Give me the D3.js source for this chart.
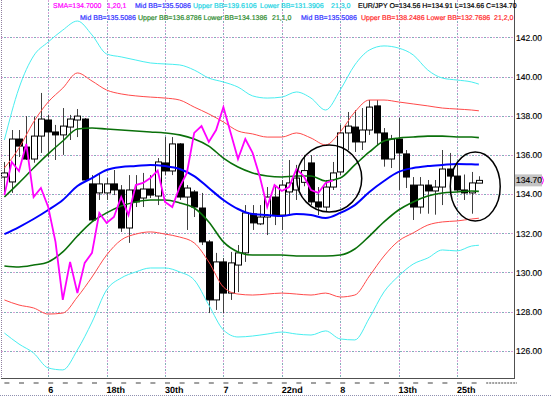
<!DOCTYPE html>
<html>
<head>
<meta charset="utf-8">
<script src="https://cdn.jsdelivr.net/npm/d3@7"></script>
<style>
  body { margin: 0; background: #fff; }
  svg { display: block; font-family: "Liberation Sans", Arial, sans-serif; text-rendering: geometricPrecision; }
</style>
</head>
<body>
<svg id="chart" width="552" height="396"></svg>
<script>
// EUR/JPY candles, Bollinger bands 21 (1/2/3 sigma), lagging SMA(1,20)

var opens  = [134.87,134.62,136.81,136.40,135.79,136.96,137.78,137.17,137.02,137.42,137.78,137.83,134.52,134.06,134.06,134.52,134.21,132.27,134.21,133.80,134.26,133.90,135.59,135.18,136.56,133.85,134.11,133.29,131.56,128.60,130.54,128.95,130.38,131.00,132.99,132.48,132.83,133.85,132.93,134.11,134.21,134.60,135.59,133.60,133.34,134.36,135.13,137.12,137.42,136.66,137.27,138.50,137.12,135.79,136.81,136.05,134.46,133.34,134.46,134.16,134.36,135.28,134.92,134.21,134.06,134.56];
var highs  = [135.64,137.27,137.27,137.98,137.95,139.16,138.04,137.53,138.39,138.04,138.34,137.88,134.97,135.08,134.82,135.23,134.46,134.97,134.97,135.08,134.97,135.84,136.91,136.91,136.60,134.46,134.21,134.06,131.66,131.00,130.74,131.05,131.40,133.44,133.44,133.44,134.36,134.36,134.72,135.74,135.49,136.00,135.99,134.36,134.72,135.64,137.53,138.19,138.29,138.39,138.80,138.80,137.37,137.02,137.88,136.25,134.87,134.87,134.72,134.72,136.25,136.10,135.50,135.00,135.13,134.91];
var lows   = [134.11,134.06,135.89,135.74,135.60,136.10,135.89,135.74,136.00,136.76,136.91,134.62,132.58,133.70,133.70,133.95,132.07,131.51,133.34,133.34,133.80,133.44,134.97,134.97,133.70,132.17,132.83,131.40,127.93,128.09,127.93,128.60,129.00,130.54,132.17,132.42,131.91,132.42,132.17,132.93,133.70,134.40,133.44,132.93,133.10,134.21,134.97,136.25,136.15,136.25,137.02,136.50,135.40,135.33,134.21,134.31,132.68,133.00,133.00,132.95,133.44,134.72,134.10,133.70,133.00,134.66];
var closes = [135.08,136.81,136.45,135.79,136.96,137.83,137.17,137.02,137.47,137.83,137.98,134.72,132.68,134.52,134.52,134.21,132.27,134.21,133.60,134.26,133.95,135.64,135.18,136.56,133.85,134.31,133.34,131.56,128.60,130.54,128.95,130.49,131.00,133.04,132.53,132.83,133.85,132.93,134.46,134.57,134.82,135.20,133.60,133.34,134.36,135.08,137.12,137.47,136.66,137.27,138.44,137.12,135.79,136.81,136.10,134.87,133.34,134.46,134.16,134.36,135.28,134.92,134.21,134.06,134.57,134.70];

// band readings, taken every second bar
var bandIdx = [0,2,4,6,8,10,12,14,16,18,20,22,24,26,28,30,32,34,36,38,40,42,44,46,48,50,52,54,56,58,60,62,64,65];
var bbMid = [131.96,132.32,132.73,133.19,133.70,134.41,134.82,135.23,135.38,135.43,135.49,135.43,135.28,134.92,134.31,133.70,133.24,132.98,132.93,132.88,132.98,132.93,132.78,133.04,133.44,134.11,134.67,135.13,135.33,135.43,135.49,135.54,135.52,135.51];
var bbUp1 = [133.85,134.57,135.33,136.05,136.71,137.32,137.37,137.32,137.27,137.22,137.17,137.12,137.02,136.81,136.45,135.84,135.38,135.08,134.92,134.87,134.92,134.92,134.67,134.82,135.49,136.15,136.71,136.86,136.91,136.96,136.96,136.91,136.91,136.88];
var bbLo1 = [130.33,130.28,130.38,130.54,131.05,131.86,132.58,133.04,133.39,133.60,133.70,133.70,133.55,133.29,132.58,131.56,131.05,130.89,130.89,130.89,130.84,130.84,130.84,130.89,131.20,131.86,132.58,133.19,133.60,133.90,134.06,134.11,134.16,134.14];
var bbUp2 = [135.33,136.35,137.68,138.70,139.41,140.18,139.77,139.31,139.11,139.01,138.95,138.90,138.80,138.44,138.09,137.68,137.22,137.07,136.91,136.91,137.12,136.86,136.51,137.17,138.19,138.80,138.80,138.70,138.60,138.50,138.39,138.34,138.29,138.25];
var bbLo2 = [128.60,128.34,128.19,127.88,127.93,128.75,129.77,130.89,131.66,131.96,132.07,131.96,131.81,131.51,130.54,129.26,128.90,128.85,128.90,128.95,128.90,128.85,128.95,128.75,128.85,129.82,130.84,131.61,132.02,132.42,132.58,132.63,132.73,132.77];
var bbUp3 = [136.76,139.41,141.05,141.76,142.37,142.83,142.12,141.15,141.00,140.84,140.69,140.64,140.59,140.33,139.92,139.72,139.46,139.01,138.90,138.95,139.21,138.90,138.29,139.31,140.59,141.35,141.56,141.45,141.10,140.33,139.92,139.82,139.72,139.61];
var bbLo3 = [126.91,126.35,125.89,125.13,125.03,126.05,127.47,129.11,129.72,130.03,130.23,130.23,130.03,129.62,128.34,127.07,126.71,126.76,126.86,126.96,126.86,126.81,127.02,126.61,126.56,127.68,129.01,129.82,130.43,130.74,131.15,131.10,131.35,131.39];

var lagShift = 20;   // SMA 1,20,1
var dateIdx = [6,14,22,30,38,46,54,62];
var dateLabels = ['6','18th','30th','7','22nd','8','13th','25th'];
var priceTicks = [126,128,130,132,134,136,138,140,142];

var headerLine1 = [
  {t:'SMA=134.7000', c:'#ff00ff', x:53},
  {t:'1,20,1', c:'#ff00ff', x:107},
  {t:'Mid BB=135.5086', c:'#3030ff', x:135},
  {t:'Upper BB=139.6106', c:'#22d4e4', x:193},
  {t:'Lower BB=131.3906', c:'#22d4e4', x:260},
  {t:'21,3,0', c:'#22d4e4', x:331},
  {t:'EUR/JPY O=134.56 H=134.91 L=134.66 C=134.70', c:'#000', x:358}
];
var headerLine2 = [
  {t:'Mid BB=135.5086', c:'#3030ff', x:80},
  {t:'Upper BB=136.8786 Lower BB=134.1386', c:'#2e8b2e', x:138},
  {t:'21,1,0', c:'#2e8b2e', x:272},
  {t:'Mid BB=135.5086', c:'#3030ff', x:301},
  {t:'Upper BB=138.2486 Lower BB=132.7686', c:'#ff2a2a', x:361},
  {t:'21,2,0', c:'#ff2a2a', x:494}
];

// highlighted zones (bar index, price, radius in bars / price)
var rings = [
  {i:44.5, p:134.80, ri:4.45, rp:1.71},
  {i:64.5, p:134.39, ri:3.42, rp:1.76}
];

var frame = {left:1, right:514, top:0, bottom:378};
var step = 7.3, nSlots = 70;

var svg = d3.select('#chart');
var x = d3.scaleLinear().domain([-0.5, nSlots - 0.5]).range([0.75, 0.75 + nSlots * step]);
var y = d3.scaleLinear().domain([126, 142]).range([350.9, 37.3]);

svg.append('defs').append('clipPath').attr('id', 'clip')
  .append('rect')
  .attr('x', frame.left).attr('y', frame.top)
  .attr('width', frame.right - frame.left).attr('height', frame.bottom - frame.top);

// dotted grid, two-tone dots
var grid = svg.append('g');
[['#d8a0d8', 0], ['#80b0b8', 3]].forEach(function(s){
  grid.selectAll(null).data(priceTicks).enter().append('line')
    .attr('x1', frame.left).attr('x2', frame.right)
    .attr('y1', function(d){ return Math.round(y(d)) + 0.5; })
    .attr('y2', function(d){ return Math.round(y(d)) + 0.5; })
    .attr('stroke', s[0]).attr('stroke-dasharray', '2,4').attr('stroke-dashoffset', s[1]);
  grid.selectAll(null).data(dateIdx).enter().append('line')
    .attr('x1', function(d){ return Math.round(x(d)) + 0.5; })
    .attr('x2', function(d){ return Math.round(x(d)) + 0.5; })
    .attr('y1', frame.top).attr('y2', frame.bottom)
    .attr('stroke', s[0]).attr('stroke-dasharray', '2,4').attr('stroke-dashoffset', s[1]);
});

var plot = svg.append('g').attr('clip-path', 'url(#clip)');

// candles
var bars = d3.range(closes.length);
plot.selectAll('.wick').data(bars).enter().append('line')
  .attr('x1', function(i){ return Math.round(x(i)) + 0.5; })
  .attr('x2', function(i){ return Math.round(x(i)) + 0.5; })
  .attr('y1', function(i){ return y(highs[i]); })
  .attr('y2', function(i){ return y(lows[i]); })
  .attr('stroke', '#404040').attr('stroke-width', 1);

plot.selectAll('.body').data(bars).enter().append('rect')
  .attr('x', function(i){ return Math.round(x(i)) - 2.5; })
  .attr('width', 6)
  .attr('y', function(i){ return y(Math.max(opens[i], closes[i])); })
  .attr('height', function(i){ return Math.max(1, Math.abs(y(opens[i]) - y(closes[i]))); })
  .attr('fill', function(i){ return closes[i] >= opens[i] ? '#fff' : '#000'; })
  .attr('stroke', '#000').attr('stroke-width', 1);

// bands
var pts = function(arr){ return bandIdx.map(function(d, k){ return [d, arr[k]]; }); };
var bandLine = d3.line().x(function(d){ return x(d[0]); }).y(function(d){ return y(d[1]); })
  .curve(d3.curveMonotoneX);
var bands = [
  {v: bbUp3, c:'#48eef0', w:1},
  {v: bbLo3, c:'#48eef0', w:1},
  {v: bbUp2, c:'#ff4a4a', w:1},
  {v: bbLo2, c:'#ff4a4a', w:1},
  {v: bbUp1, c:'#0a700a', w:1.6},
  {v: bbLo1, c:'#0a700a', w:1.6},
  {v: bbMid, c:'#0000ff', w:2}
];
plot.selectAll('.band').data(bands).enter().append('path')
  .attr('d', function(b){ return bandLine(pts(b.v)); })
  .attr('fill', 'none')
  .attr('stroke', function(b){ return b.c; })
  .attr('stroke-width', function(b){ return b.w; });

// lagging close
var lag = d3.range(closes.length - lagShift).map(function(i){ return [i, closes[i + lagShift]]; });
plot.append('path')
  .attr('d', d3.line().x(function(d){ return x(d[0]); }).y(function(d){ return y(d[1]); })(lag))
  .attr('fill', 'none').attr('stroke', '#ff00ff').attr('stroke-width', 1.8);

// rings
svg.selectAll('.ring').data(rings).enter().append('ellipse')
  .attr('cx', function(r){ return x(r.i); })
  .attr('cy', function(r){ return y(r.p); })
  .attr('rx', function(r){ return x(r.i + r.ri) - x(r.i); })
  .attr('ry', function(r){ return y(r.p - r.rp) - y(r.p); })
  .attr('fill', 'none').attr('stroke', '#000').attr('stroke-width', 1.5);

// frame
svg.append('line').attr('x1', frame.left + 0.5).attr('x2', frame.left + 0.5)
  .attr('y1', 0).attr('y2', frame.bottom).attr('stroke', '#9080a0').attr('stroke-dasharray', '1,1');
svg.append('line').attr('x1', frame.right + 0.5).attr('x2', frame.right + 0.5)
  .attr('y1', 0).attr('y2', frame.bottom + 1).attr('stroke', '#505050');
svg.append('line').attr('x1', frame.left).attr('x2', frame.right + 1)
  .attr('y1', frame.bottom + 0.5).attr('y2', frame.bottom + 0.5).attr('stroke', '#505050');
svg.append('line').attr('x1', 0).attr('x2', 552)
  .attr('y1', 395.5).attr('y2', 395.5).attr('stroke', '#9090b0').attr('stroke-dasharray', '1,1');

// right price axis
var yAxis = svg.append('g').attr('transform', 'translate(' + (frame.right + 2) + ',0)')
  .call(d3.axisRight(y).tickValues(priceTicks).tickSize(0).tickFormat(d3.format('.2f')));
yAxis.select('.domain').remove();
yAxis.selectAll('text').attr('x', 0).attr('font-size', 8.5).attr('fill', '#000')
  .attr('stroke', '#000').attr('stroke-width', 0.15)
  .attr('font-family', '"Liberation Sans", Arial, sans-serif');

var last = closes[closes.length - 1];
svg.append('rect').attr('x', frame.right + 1).attr('y', y(last) - 6)
  .attr('width', 27).attr('height', 12).attr('fill', '#c4c4c4');
svg.append('text').attr('x', frame.right + 2).attr('y', y(last) + 3)
  .attr('font-size', 8.5).attr('fill', '#000').attr('stroke', '#000').attr('stroke-width', 0.15)
  .text(d3.format('.2f')(last));
svg.append('path')
  .attr('d', 'M' + (frame.right + 28) + ',' + (y(last) - 4) + ' q3,4 0,8')
  .attr('fill', 'none').attr('stroke', '#ff00ff').attr('stroke-width', 1);

// bottom date axis
svg.selectAll('.tk').data(d3.range(0, closes.length, 2)).enter().append('rect')
  .attr('x', function(i){ return x(i); }).attr('y', 382)
  .attr('width', 5).attr('height', 2).attr('fill', '#a0a0a0');
svg.append('line').attr('x1', x(66)).attr('x2', frame.right + 3)
  .attr('y1', 383).attr('y2', 383)
  .attr('stroke', '#a0a0a0').attr('stroke-width', 2).attr('stroke-dasharray', '2,1');
svg.selectAll('.dl').data(dateIdx).enter().append('text')
  .attr('x', function(d){ return x(d); }).attr('y', 393)
  .attr('font-size', 9).attr('font-weight', 'bold').attr('fill', '#000')
  .text(function(d, k){ return dateLabels[k]; });

// header
function header(items, yy){
  svg.selectAll(null).data(items).enter().append('text')
    .attr('x', function(d){ return d.x; }).attr('y', yy)
    .attr('font-size', 7)
    .attr('fill', function(d){ return d.c; })
    .attr('stroke', function(d){ return d.c; }).attr('stroke-width', 0.2)
    .text(function(d){ return d.t; });
}
header(headerLine1, 7.5);
header(headerLine2, 19.5);
</script>
</body>
</html>
